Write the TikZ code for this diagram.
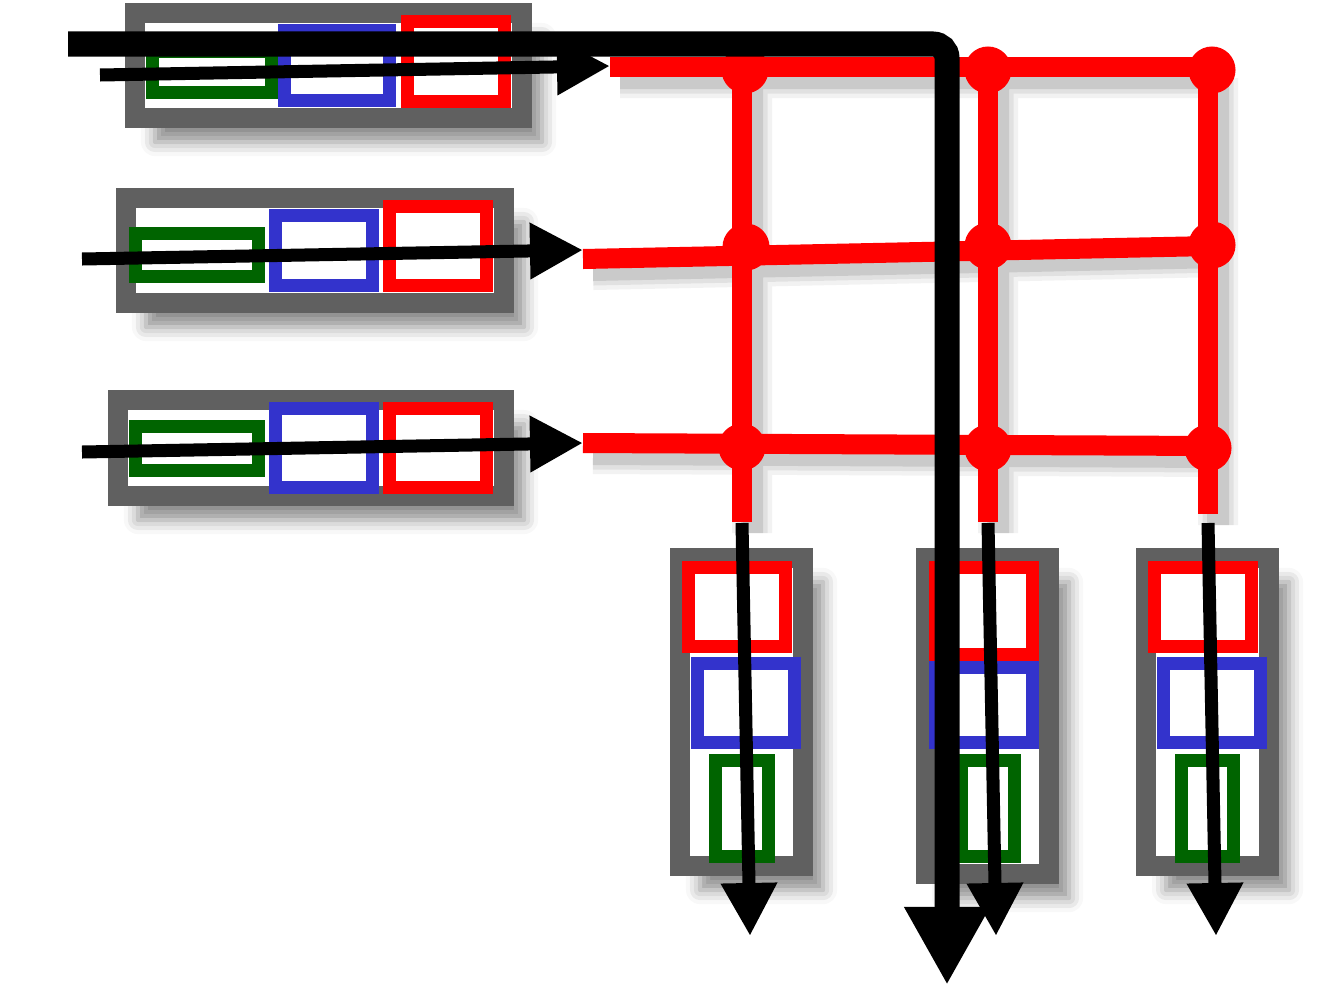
\documentclass[tikz,border=0pt]{standalone}
\usetikzlibrary{arrows.meta,shadows.blur}
\definecolor{framegray}{RGB}{96,96,96}
\definecolor{cellgreen}{RGB}{0,100,0}
\definecolor{cellblue}{RGB}{51,51,204}
\definecolor{cellred}{RGB}{255,0,0}

\begin{document}
\begin{tikzpicture}[x=0.01cm,y=-0.01cm,
  frame/.style={draw=framegray,fill=white,line width=0.2cm,inner sep=0pt,
    blur shadow={shadow xshift=0.2cm,shadow yshift=-0.24cm,shadow blur radius=0.14cm,shadow opacity=45}},
  cell/.style={draw=#1,line width=0.13cm,inner sep=0pt},
  wire/.style={draw=cellred,line width=0.2cm},
  knot/.style={circle,fill=cellred,inner sep=0pt,minimum size=0.47cm},
  feed/.style={line width=0.13cm,-{Triangle[length=0.53cm,width=0.53cm]}},
  bus/.style={line width=0.25cm,rounded corners=0.14cm,-{Triangle[length=0.78cm,width=0.8cm]}}]
\useasboundingbox (0,0) rectangle (1319,1000);

% input rows
\node[frame,minimum width=3.87cm,minimum height=1.05cm] (row1) at (328.5,65.5) {};
\node[frame,minimum width=3.78cm,minimum height=1.05cm] (row2) at (315,250.5) {};
\node[frame,minimum width=3.86cm,minimum height=0.96cm] (row3) at (311,448) {};
\node[cell=cellgreen,minimum width=1.19cm,minimum height=0.41cm] (g1) at (212,72) {};
\node[cell=cellblue,minimum width=1.05cm,minimum height=0.70cm] (b1) at (337,65.5) {};
\node[cell=cellred,minimum width=0.97cm,minimum height=0.80cm] (r1) at (456,61.5) {};
\node[cell=cellgreen,minimum width=1.23cm,minimum height=0.43cm] (g2) at (197,255) {};
\node[cell=cellblue,minimum width=0.97cm,minimum height=0.70cm] (b2) at (324,250.5) {};
\node[cell=cellred,minimum width=0.97cm,minimum height=0.79cm] (r2) at (438,246) {};
\node[cell=cellgreen,minimum width=1.23cm,minimum height=0.44cm] (g3) at (197,448.5) {};
\node[cell=cellblue,minimum width=0.97cm,minimum height=0.79cm] (b3) at (324,448) {};
\node[cell=cellred,minimum width=0.97cm,minimum height=0.79cm] (r3) at (438,448) {};

% output columns
\node[frame,minimum width=1.23cm,minimum height=3.08cm] (col1) at (741.5,712) {};
\node[frame,minimum width=1.23cm,minimum height=3.16cm] (col2) at (987.5,716) {};
\node[frame,minimum width=1.23cm,minimum height=3.08cm] (col3) at (1207.5,712) {};
\node[cell=cellred,minimum width=0.97cm,minimum height=0.79cm] (cr1) at (737,607) {};
\node[cell=cellblue,minimum width=0.97cm,minimum height=0.79cm] (cb1) at (746,703) {};
\node[cell=cellgreen,minimum width=0.53cm,minimum height=0.96cm] (cg1) at (742,808.5) {};
\node[cell=cellred,minimum width=0.97cm,minimum height=0.87cm] (cr2) at (984,611) {};
\node[cell=cellblue,minimum width=0.97cm,minimum height=0.75cm] (cb2) at (984,705) {};
\node[cell=cellgreen,minimum width=0.53cm,minimum height=0.96cm] (cg2) at (988,808.5) {};
\node[cell=cellred,minimum width=0.97cm,minimum height=0.79cm] (cr3) at (1203,607) {};
\node[cell=cellblue,minimum width=0.97cm,minimum height=0.79cm] (cb3) at (1212,703) {};
\node[cell=cellgreen,minimum width=0.52cm,minimum height=0.96cm] (cg3) at (1207.5,808.5) {};

% grid
\coordinate (s1) at (610,67);  \coordinate (w1) at (1212,67);
\coordinate (s2) at (583,259); \coordinate (w2) at (1212,246);
\coordinate (s3) at (583,443); \coordinate (w3) at (1212,446);
\coordinate (u1) at (742,67);  \coordinate (t1) at (742,522);
\coordinate (u2) at (988,67);  \coordinate (t2) at (988,522);
\coordinate (u3) at (1208,67); \coordinate (t3) at (1208,514);
\coordinate (j11) at (745,70);  \coordinate (j12) at (988,70);  \coordinate (j13) at (1212,70);
\coordinate (j21) at (746,247); \coordinate (j22) at (988,246); \coordinate (j23) at (1212,245);
\coordinate (j31) at (742,447); \coordinate (j32) at (988,448); \coordinate (j33) at (1208,448);

% shadow of the grid
\foreach \w/\o in {0.4cm/0.05,0.31cm/0.07,0.22cm/0.1}{
\begin{scope}[transform canvas={shift={(0.1cm,-0.11cm)}}]
\draw[line width=\w,black,opacity=\o] (s1) -- (w1) (s2) -- (w2) (s3) -- (w3)
  (u1) -- (t1) (u2) -- (t2) (u3) -- (t3);
\end{scope}}

\foreach \i in {1,2,3}
\draw[wire] (s\i) -- (w\i);
\foreach \i in {1,2,3}
\draw[wire] (u\i) -- (t\i);
\foreach \r in {1,2,3}
\foreach \c in {1,2,3}
\node[knot] (k\r\c) at (j\r\c) {};

% arrows
\coordinate (in1) at (100,75); \coordinate (p1) at (610,66);
\coordinate (in2) at (82,259); \coordinate (p2) at (583,250);
\coordinate (in3) at (82,452); \coordinate (p3) at (583,443);
\coordinate (a1) at (742,523); \coordinate (o1) at (750,936);
\coordinate (a2) at (988,523); \coordinate (o2) at (996,936);
\coordinate (a3) at (1208,523); \coordinate (o3) at (1216,936);
\foreach \i in {1,2,3}
\draw[feed] (in\i) -- (p\i);
\foreach \i in {1,2,3}
\draw[feed] (a\i) -- (o\i);
\coordinate (busin) at (68,44);
\coordinate (busout) at (947,985);
\draw[bus] (busin) -| (busout);
\end{tikzpicture}
\end{document}
